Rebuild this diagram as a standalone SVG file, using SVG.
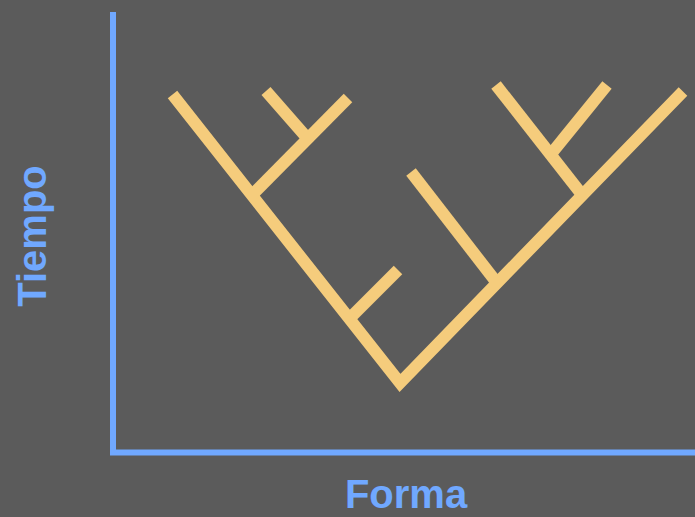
<svg xmlns="http://www.w3.org/2000/svg" width="695" height="517" viewBox="0 0 695 517">
<style>
.axis{stroke:#70a8ff;stroke-width:6;fill:none}
.br{stroke:#f5cc7c;stroke-width:12;fill:none;stroke-linecap:butt;stroke-linejoin:miter}
.lbl{font-family:"Liberation Sans",Arial,sans-serif;font-weight:bold;fill:#70a8ff;font-size:40px}
</style>
<rect width="695" height="517" fill="#5b5b5b"/>
<g id="axes">
<polyline class="axis" points="113,12 113,452.5 695,452.5"/>
</g>
<g id="connectors">
<polyline class="br" points="172.5,94.5 400,383 683,91.5"/>
<line class="br" x1="252" y1="195" x2="348" y2="98"/>
<line class="br" x1="308" y1="139" x2="266" y2="91"/>
<line class="br" x1="350" y1="318" x2="398" y2="270"/>
<line class="br" x1="497" y1="283" x2="411" y2="172"/>
<line class="br" x1="583" y1="196" x2="496" y2="85"/>
<line class="br" x1="551" y1="154" x2="607" y2="85"/>
</g>
<g id="label-forma">
<text class="lbl" x="406" y="508" text-anchor="middle" font-size="41">Forma</text>
</g>
<g id="label-tiempo">
<text class="lbl" transform="translate(45.5,236) rotate(-90)" text-anchor="middle" font-size="37">Tiempo</text>
</g>
</svg>
